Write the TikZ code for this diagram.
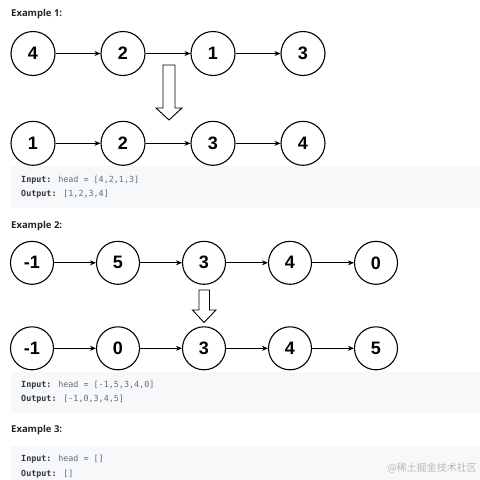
\documentclass[tikz,border=0pt]{standalone}
\usepackage{fontspec}
\setmainfont{Liberation Sans}
\newfontfamily\headfont{Open Sans}
\newfontfamily\codefont{DejaVu Sans Mono}
\newfontfamily\cjkfont{Noto Sans CJK SC}
\usetikzlibrary{arrows.meta}
\definecolor{codebg}{RGB}{247,248,250}
\definecolor{codegray}{RGB}{96,108,128}
\definecolor{codeink}{RGB}{50,55,65}
\definecolor{headink}{RGB}{38,38,38}
\tikzset{
  listnode/.style={circle, draw, line width=1.1pt, minimum size=44pt, inner sep=0pt,
    font=\fontsize{18}{18}\selectfont\bfseries},
  nextptr/.style={-{Stealth[length=6pt,width=5pt]}, line width=0.8pt},
  bigarrow/.style={draw, fill=white, line width=0.9pt, line join=miter},
  codebox/.style={fill=codebg},
  codeline/.style={anchor=west, inner sep=0pt, text=codegray,
    font=\codefont\fontsize{8.4}{9}\selectfont},
  exhead/.style={anchor=base west, inner sep=0pt, text=headink,
    font=\headfont\bfseries\fontsize{9.5}{10}\selectfont}
}

\begin{document}
\begin{tikzpicture}[x=1pt, y=-1pt]
  \useasboundingbox (0,0) rectangle (480,480);
  % example 1
  \node[exhead] (h1) at (11,16.5) {Example 1:};
  \node[listnode] (a1) at (33,53.5) {4};
  \node[listnode] (a2) at (123,53.5) {2};
  \node[listnode] (a3) at (213,53.5) {1};
  \node[listnode] (a4) at (303,53.5) {3};
  \draw[nextptr] (a1) -- (a2);
  \draw[nextptr] (a2) -- (a3);
  \draw[nextptr] (a3) -- (a4);
  % hollow arrow: before -> after
  \draw[bigarrow] (163,65) -- (175,65) -- (175,108) -- (182,108) -- (169,120)
    -- (156,108) -- (163,108) -- cycle;
  \node[listnode] (b1) at (33,143.3) {1};
  \node[listnode] (b2) at (123,143.3) {2};
  \node[listnode] (b3) at (213,143.3) {3};
  \node[listnode] (b4) at (303,143.3) {4};
  \draw[nextptr] (b1) -- (b2);
  \draw[nextptr] (b2) -- (b3);
  \draw[nextptr] (b3) -- (b4);
  \fill[codebox] (11,166) rectangle (480,208);
  \node[codeline] (in1) at (21,180) {\textcolor{codeink}{\bfseries Input:} head = [4,2,1,3]};
  \node[codeline] (out1) at (21,194) {\textcolor{codeink}{\bfseries Output:} [1,2,3,4]};

  % example 2
  \node[exhead] (h2) at (11,228.5) {Example 2:};
  \begin{scope}[listnode/.append style={minimum size=43pt}]
    \node[listnode] (c1) at (32,262.8) {-1};
    \node[listnode] (c2) at (118,262.8) {5};
    \node[listnode] (c3) at (204,262.8) {3};
    \node[listnode] (c4) at (290,262.8) {4};
    \node[listnode] (c5) at (376,262.8) {0};
    \node[listnode] (d1) at (32,348.3) {-1};
    \node[listnode] (d2) at (118,348.3) {0};
    \node[listnode] (d3) at (204,348.3) {3};
    \node[listnode] (d4) at (290,348.3) {4};
    \node[listnode] (d5) at (376,348.3) {5};
  \end{scope}
  \draw[nextptr] (c1) -- (c2);
  \draw[nextptr] (c2) -- (c3);
  \draw[nextptr] (c3) -- (c4);
  \draw[nextptr] (c4) -- (c5);
  \draw[bigarrow] (199,290) -- (209.5,290) -- (209.5,310) -- (216,310) -- (204,322.5)
    -- (192.5,310) -- (199,310) -- cycle;
  \draw[nextptr] (d1) -- (d2);
  \draw[nextptr] (d2) -- (d3);
  \draw[nextptr] (d3) -- (d4);
  \draw[nextptr] (d4) -- (d5);
  \fill[codebox] (11,372) rectangle (480,413);
  \node[codeline] (in2) at (21,385) {\textcolor{codeink}{\bfseries Input:} head = [-1,5,3,4,0]};
  \node[codeline] (out2) at (21,399) {\textcolor{codeink}{\bfseries Output:} [-1,0,3,4,5]};

  % example 3
  \node[exhead] (h3) at (11,432.5) {Example 3:};
  \fill[codebox] (11,446) rectangle (480,480);
  \node[codeline] (in3) at (21,459.5) {\textcolor{codeink}{\bfseries Input:} head = []};
  \node[codeline] (out3) at (21,474) {\textcolor{codeink}{\bfseries Output:} []};
  \node[anchor=east, inner sep=0pt, text=gray!55, font=\cjkfont\fontsize{10}{10}\selectfont]
    (mark) at (477,468) {@稀土掘金技术社区};
\end{tikzpicture}
\end{document}
